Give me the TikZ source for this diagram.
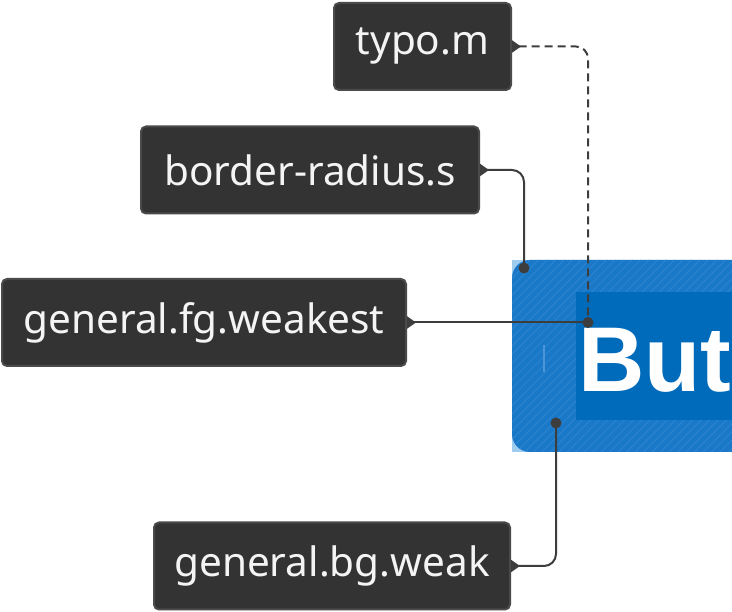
\documentclass[tikz,border=0pt]{standalone}
\usepackage{fontspec}
\setmainfont{Noto Sans}
\newfontfamily\btnfont{Liberation Sans}
\usetikzlibrary{arrows.meta,patterns.meta}
\definecolor{boxfill}{HTML}{333333}
\definecolor{boxline}{HTML}{4A4A4A}
\definecolor{conncol}{HTML}{3D3D3D}
\definecolor{btnlight}{HTML}{9FCBEF}
\definecolor{btnpad}{HTML}{1A78C8}
\definecolor{btnmain}{HTML}{006ABB}
\definecolor{hatchcol}{HTML}{2C84CE}
\definecolor{cursorcol}{HTML}{4A96D8}
\definecolor{labelcol}{HTML}{F4F4F4}
\begin{document}
\begin{tikzpicture}[x=1pt,y=-1pt,
  tokenbox/.style={draw=boxline, fill=boxfill, line width=2pt, rounded corners=5pt,
    text=labelcol, font=\fontsize{40.5}{46}\selectfont, inner sep=0pt, minimum height=87pt},
  conn/.style={draw=conncol, line width=2pt, {Triangle[reversed,length=9pt,width=12pt]}-, rounded corners=12pt},
  dotfill/.style={fill=conncol}]
\useasboundingbox (0,0) rectangle (732,612);

% button
\begin{scope}
  \clip (512,260) rectangle (732,452);
  \fill[btnlight] (512,260) rectangle (732,452);
  \fill[btnpad, rounded corners=18pt] (512,260) rectangle (770,452);
  \fill[pattern={Lines[angle=45,distance=6pt,line width=1pt]}, pattern color=hatchcol, rounded corners=18pt] (512,260) rectangle (770,452);
  \fill[btnmain] (576,292) rectangle (732,420);
  \draw[cursorcol, line width=2pt] (544,345) -- (544,372);
  \node[anchor=base west, text=white, font=\btnfont\bfseries\fontsize{92}{100}\selectfont, inner sep=0pt] (label) at (578,392) {But};
\end{scope}

% token boxes
\node[tokenbox, minimum width=177pt] (typo) at (422.5,46.5) {typo.m};
\node[tokenbox, minimum width=338pt] (br) at (310,170) {border-radius.s};
\node[tokenbox, minimum width=404pt] (fg) at (204,322.5) {general.fg.weakest};
\node[tokenbox, minimum width=356pt] (bg) at (332,566) {general.bg.weak};

% connector ends
\coordinate (pA) at (588,322.5);
\coordinate (pB) at (524,268);
\coordinate (pC) at (556,423);

\draw[conn, dash pattern=on 8pt off 5pt] (typo.east) -| (pA);
\draw[conn] (br.east) -| (pB);
\draw[conn] (fg.east) -- (pA);
\draw[conn] (bg.east) -| (pC);

\fill[dotfill] (pA) circle (5.5pt);
\fill[dotfill] (pB) circle (5.5pt);
\fill[dotfill] (pC) circle (5.5pt);
\end{tikzpicture}
\end{document}
